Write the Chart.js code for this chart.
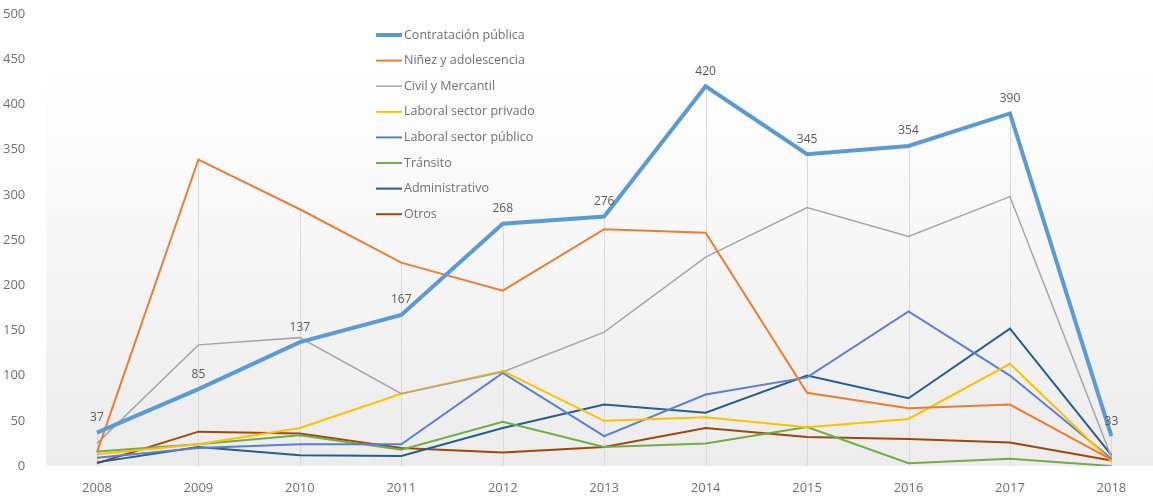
<!DOCTYPE html>
<html>
<head>
<meta charset="utf-8">
<script src="https://cdn.jsdelivr.net/npm/chart.js@4.4.0/dist/chart.umd.min.js"></script>
<style>
  html, body { margin: 0; padding: 0; background: #fff; }
  #wrap { width: 1153px; height: 496px; }
</style>
</head>
<body>
<div id="wrap"><canvas id="chart" width="1153" height="496"></canvas></div>
<script>
// data
const years = [2008, 2009, 2010, 2011, 2012, 2013, 2014, 2015, 2016, 2017, 2018];
const seriesNames = ['Contratación pública', 'Niñez y adolescencia', 'Civil y Mercantil',
    'Laboral sector privado', 'Laboral sector público', 'Tránsito', 'Administrativo', 'Otros'];
const contratacion = [37, 85, 137, 167, 268, 276, 420, 345, 354, 390, 33];
const ninez = [15, 339, 284, 225, 194, 262, 258, 81, 64, 68, 7];
const civil = [25, 134, 142, 80, 104, 148, 231, 286, 254, 298, 10];
const laboralPrivado = [13, 24, 42, 80, 105, 50, 54, 43, 52, 113, 5];
const laboralPublico = [9, 20, 24, 24, 103, 33, 79, 98, 171, 100, 8];
const transito = [16, 24, 34, 18, 49, 21, 25, 43, 3, 8, 0];
const administrativo = [4, 21, 12, 11, 42, 68, 59, 100, 75, 152, 12];
const otros = [3, 38, 36, 20, 15, 21, 42, 32, 30, 26, 6];
const yTicks = [0, 50, 100, 150, 200, 250, 300, 350, 400, 450, 500];

const allSeries = [contratacion, ninez, civil, laboralPrivado, laboralPublico, transito, administrativo, otros];
const colors = ['#5B9BD5', '#ED7D31', '#A5A5A5', '#FFC000', '#5B7FD0', '#70AD47', '#255E91', '#9E480E'];
const widths = [4, 2, 1.5, 2, 2, 2, 2, 2];

const FONT = '"Open Sans", sans-serif';
const TXT = '#707070';

function toPoints(arr) {
    return years.map((yr, i) => ({ x: yr, y: arr[i] }));
}

// plot area shading
const bgPlugin = {
    id: 'bg',
    beforeDraw(chart) {
        const { ctx, chartArea: a } = chart;
        const top = a.top + 52;
        const g = ctx.createLinearGradient(0, top, 0, a.bottom);
        g.addColorStop(0, '#ffffff');
        g.addColorStop(1, '#ececec');
        ctx.save();
        ctx.fillStyle = g;
        ctx.fillRect(a.left, top, a.right - a.left, a.bottom - top);
        ctx.restore();
    }
};

// drop lines from the highest point at each year
const dropLines = {
    id: 'dropLines',
    beforeDatasetsDraw(chart) {
        const { ctx, chartArea: a, scales } = chart;
        ctx.save();
        ctx.strokeStyle = '#d9d9d9';
        ctx.lineWidth = 1;
        years.forEach((yr, i) => {
            const top = Math.max(...allSeries.map(s => s[i]));
            const x = Math.round(scales.x.getPixelForValue(yr)) + 0.5;
            ctx.beginPath();
            ctx.moveTo(x, scales.y.getPixelForValue(top));
            ctx.lineTo(x, a.bottom);
            ctx.stroke();
        });
        ctx.restore();
    }
};

// value labels on the first series
const valueLabels = {
    id: 'valueLabels',
    afterDatasetsDraw(chart) {
        const { ctx } = chart;
        const meta = chart.getDatasetMeta(0);
        ctx.save();
        ctx.font = '12px ' + FONT;
        ctx.fillStyle = '#595959';
        ctx.textAlign = 'center';
        ctx.textBaseline = 'bottom';
        meta.data.forEach((pt, i) => {
            ctx.fillText(String(contratacion[i]), pt.x, pt.y - 9);
        });
        ctx.restore();
    }
};

// legend inside the plot
const innerLegend = {
    id: 'innerLegend',
    afterDraw(chart) {
        const { ctx } = chart;
        ctx.save();
        ctx.font = '12.5px ' + FONT;
        ctx.fillStyle = TXT;
        ctx.textBaseline = 'middle';
        chart.data.datasets.forEach((ds, i) => {
            const y = 35 + i * 25.6;
            ctx.strokeStyle = ds.borderColor;
            ctx.lineWidth = ds.borderWidth;
            ctx.beginPath();
            ctx.moveTo(376, y);
            ctx.lineTo(402, y);
            ctx.stroke();
            ctx.fillText(ds.label, 404, y);
        });
        ctx.restore();
    }
};

new Chart(document.getElementById('chart').getContext('2d'), {
    type: 'line',
    data: {
        datasets: allSeries.map((s, i) => ({
            label: seriesNames[i],
            data: toPoints(s),
            borderColor: colors[i],
            backgroundColor: colors[i],
            borderWidth: widths[i],
            pointRadius: 0,
            tension: 0,
            fill: false
        }))
    },
    options: {
        responsive: false,
        animation: false,
        layout: { padding: { top: 14, right: 0, left: 0, bottom: 0 } },
        plugins: {
            legend: { display: false },
            tooltip: { enabled: false }
        },
        scales: {
            x: {
                type: 'linear',
                min: 2007.5,
                max: 2018.41,
                afterBuildTicks: axis => {
                    axis.ticks = years.map(v => ({ value: v }));
                },
                afterFit: scale => {
                    scale.height = 30;
                    scale.paddingLeft = 0;
                    scale.paddingRight = 0;
                },
                ticks: {
                    callback: v => String(v),
                    font: { family: FONT, size: 13 },
                    color: TXT,
                    padding: 6,
                    maxRotation: 0,
                    autoSkip: false
                },
                grid: { display: false },
                border: { display: false }
            },
            y: {
                min: 0,
                max: 500,
                afterBuildTicks: axis => {
                    axis.ticks = yTicks.map(v => ({ value: v }));
                },
                afterFit: scale => {
                    scale.width = 46.25;
                    scale.paddingTop = 0;
                    scale.paddingBottom = 0;
                },
                ticks: {
                    font: { family: FONT, size: 13 },
                    color: TXT,
                    padding: 13
                },
                grid: { display: false },
                border: { display: false }
            }
        }
    },
    plugins: [bgPlugin, dropLines, valueLabels, innerLegend]
});
</script>
</body>
</html>
